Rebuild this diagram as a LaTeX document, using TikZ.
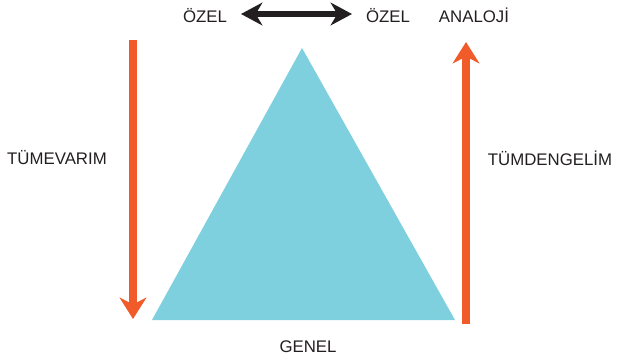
\documentclass[tikz,border=0pt]{standalone}
\usepackage{fontspec}
\setmainfont{Liberation Sans}
\usepackage{xcolor}
\usetikzlibrary{arrows.meta, positioning, calc}

\definecolor{triblue}{RGB}{127,208,222}
\definecolor{arrorange}{RGB}{241,90,41}
\definecolor{txtgray}{RGB}{35,31,32}

\begin{document}
\begin{tikzpicture}[
  x=0.75pt, y=-0.75pt,
  lbl/.style={text=txtgray, font=\fontsize{12.6}{15}\selectfont, inner sep=0pt},
  ortip/.tip={Stealth[length=16pt, width=20pt, inset=5pt]},
  bktip/.tip={Stealth[length=16pt, width=17pt, inset=5pt]},
  orarrow/.style={draw=arrorange, line width=5.3pt, -ortip},
  bkarrow/.style={draw=txtgray, line width=3.8pt, bktip-bktip},
]
\useasboundingbox (0,0) rectangle (617,362);
% triangle
\coordinate (apex) at (302,48);
\coordinate (bl) at (152,320);
\coordinate (br) at (455,320);
\fill[triblue] (apex) -- (bl) -- (br) -- cycle;
% labels
\node[lbl] (ozelL) at (205,16) {ÖZEL};
\node[lbl] (ozelR) at (388,16) {ÖZEL};
\node[lbl] (analoji) at (474,15) {ANALOJİ};
\node[lbl] (tumevarim) at (57,158) {TÜMEVARIM};
\node[lbl] (tumdengelim) at (550,158) {TÜMDENGELİM};
\node[lbl] (genel) at (308,347) {GENEL};
% arrows
\coordinate (dnTop) at (133,40);
\coordinate (dnEnd) at (133,319);
\coordinate (upBot) at (466,324);
\coordinate (upEnd) at (466,42);
\coordinate (dblL) at (241,14);
\coordinate (dblR) at (352,14);
\draw[orarrow] (dnTop) -- (dnEnd);
\draw[orarrow] (upBot) -- (upEnd);
\draw[bkarrow] (dblL) -- (dblR);
\end{tikzpicture}
\end{document}
